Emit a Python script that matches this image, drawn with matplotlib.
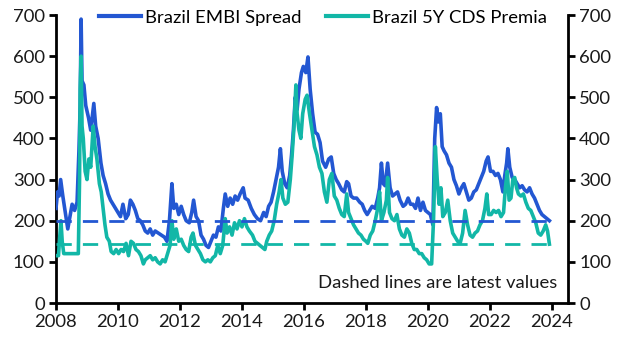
import matplotlib
matplotlib.use("Agg")
import matplotlib.pyplot as plt

# ---- data (fractional years, bp) ----
embi_t = [2008.00, 2008.05, 2008.10, 2008.15, 2008.22, 2008.30, 2008.38, 2008.45, 2008.52, 2008.60,
          2008.68, 2008.74, 2008.78, 2008.81, 2008.84, 2008.90, 2008.96, 2009.05, 2009.12, 2009.22,
          2009.28, 2009.36, 2009.45, 2009.52, 2009.60, 2009.68, 2009.76, 2009.84, 2009.92, 2010.00,
          2010.08, 2010.16, 2010.25, 2010.33, 2010.40, 2010.48, 2010.56, 2010.64, 2010.72, 2010.80,
          2010.88, 2010.96, 2011.04, 2011.12, 2011.20, 2011.30, 2011.40, 2011.50, 2011.58, 2011.66,
          2011.74, 2011.80, 2011.88, 2011.96, 2012.04, 2012.12, 2012.20, 2012.30, 2012.38, 2012.44,
          2012.52, 2012.60, 2012.68, 2012.76, 2012.84, 2012.92, 2013.00, 2013.08, 2013.16, 2013.24,
          2013.32, 2013.40, 2013.46, 2013.54, 2013.62, 2013.70, 2013.78, 2013.86, 2013.94, 2014.04,
          2014.10, 2014.20, 2014.30, 2014.40, 2014.50, 2014.60, 2014.70, 2014.78, 2014.86, 2014.94,
          2015.02, 2015.10, 2015.18, 2015.24, 2015.30, 2015.38, 2015.46, 2015.54, 2015.60, 2015.66,
          2015.72, 2015.78, 2015.84, 2015.92, 2015.98, 2016.06, 2016.13, 2016.20, 2016.28, 2016.36,
          2016.44, 2016.52, 2016.60, 2016.70, 2016.80, 2016.88, 2016.96, 2017.04, 2017.12, 2017.22,
          2017.30, 2017.38, 2017.44, 2017.52, 2017.60, 2017.70, 2017.80, 2017.88, 2017.96, 2018.04,
          2018.12, 2018.20, 2018.30, 2018.38, 2018.44, 2018.50, 2018.56, 2018.62, 2018.70, 2018.78,
          2018.86, 2018.94, 2019.02, 2019.10, 2019.20, 2019.28, 2019.36, 2019.44, 2019.52, 2019.60,
          2019.68, 2019.76, 2019.84, 2019.92, 2020.00, 2020.08, 2020.16, 2020.22, 2020.28, 2020.34,
          2020.40, 2020.46, 2020.52, 2020.60, 2020.68, 2020.76, 2020.84, 2020.92, 2021.00, 2021.08,
          2021.16, 2021.24, 2021.32, 2021.40, 2021.48, 2021.56, 2021.64, 2021.72, 2021.80, 2021.88,
          2021.94, 2022.02, 2022.10, 2022.18, 2022.26, 2022.34, 2022.42, 2022.48, 2022.54, 2022.58,
          2022.64, 2022.72, 2022.80, 2022.88, 2022.96, 2023.04, 2023.12, 2023.20, 2023.28, 2023.36,
          2023.44, 2023.52, 2023.60, 2023.68, 2023.76, 2023.84, 2023.92]
embi_v = [230, 270, 260, 300, 260, 220, 180, 210, 240, 225,
          245, 370, 480, 690, 540, 530, 480, 450, 420, 485,
          430, 400, 340, 310, 290, 265, 250, 240, 230, 220,
          210, 240, 205, 215, 250, 240, 225, 205, 200, 190,
          175, 170, 180, 165, 175, 170, 165, 160, 150, 200,
          290, 230, 240, 215, 235, 215, 200, 195, 220, 250,
          210, 200, 165, 155, 140, 135, 150, 165, 160, 185,
          175, 230, 265, 235, 255, 240, 260, 250, 265, 280,
          255, 250, 230, 215, 205, 200, 220, 210, 235, 245,
          270, 300, 330, 375, 320, 290, 280, 310, 360, 420,
          500, 470, 520, 560, 575, 560, 598, 520, 460, 415,
          410, 390, 345, 330, 350, 355, 315, 300, 290, 275,
          270, 295, 290, 260, 255, 255, 245, 240, 225, 215,
          225, 235, 230, 255, 280, 340, 290, 285, 340, 280,
          260, 265, 270, 250, 235, 240, 255, 240, 240, 230,
          255, 225, 245, 225, 220, 215, 190, 400, 475, 440,
          460, 380, 370, 360, 340, 330, 300, 285, 265, 280,
          290, 270, 250, 255, 270, 275, 290, 305, 320, 345,
          355, 320, 320, 310, 315, 300, 270, 310, 340, 375,
          330, 305, 300, 290, 280, 285, 275, 270, 280, 265,
          255, 240, 225, 215, 210, 205, 200]

cds_t = [2008.00, 2008.08, 2008.12, 2008.16, 2008.20, 2008.25, 2008.72, 2008.76, 2008.78, 2008.81,
         2008.84, 2008.88, 2008.94, 2009.00, 2009.06, 2009.12, 2009.20, 2009.26, 2009.32, 2009.40,
         2009.46, 2009.52, 2009.58, 2009.64, 2009.72, 2009.78, 2009.86, 2009.94, 2010.02, 2010.10,
         2010.18, 2010.26, 2010.34, 2010.42, 2010.50, 2010.58, 2010.66, 2010.74, 2010.82, 2010.88,
         2010.96, 2011.04, 2011.12, 2011.20, 2011.28, 2011.36, 2011.44, 2011.52, 2011.60, 2011.68,
         2011.74, 2011.80, 2011.88, 2011.96, 2012.04, 2012.12, 2012.20, 2012.28, 2012.36, 2012.42,
         2012.50, 2012.58, 2012.66, 2012.74, 2012.82, 2012.90, 2012.98, 2013.06, 2013.14, 2013.22,
         2013.30, 2013.38, 2013.46, 2013.52, 2013.60, 2013.68, 2013.76, 2013.84, 2013.92, 2014.00,
         2014.08, 2014.16, 2014.24, 2014.34, 2014.42, 2014.50, 2014.58, 2014.66, 2014.74, 2014.80,
         2014.88, 2014.96, 2015.04, 2015.12, 2015.20, 2015.26, 2015.32, 2015.40, 2015.48, 2015.56,
         2015.62, 2015.68, 2015.74, 2015.78, 2015.84, 2015.90, 2015.96, 2016.04, 2016.10, 2016.18,
         2016.26, 2016.34, 2016.42, 2016.50, 2016.58, 2016.66, 2016.74, 2016.82, 2016.90, 2016.98,
         2017.06, 2017.14, 2017.22, 2017.30, 2017.38, 2017.44, 2017.52, 2017.60, 2017.68, 2017.76,
         2017.84, 2017.92, 2018.00, 2018.06, 2018.14, 2018.22, 2018.30, 2018.38, 2018.44, 2018.50,
         2018.58, 2018.66, 2018.70, 2018.76, 2018.84, 2018.92, 2019.00, 2019.08, 2019.16, 2019.24,
         2019.32, 2019.40, 2019.48, 2019.56, 2019.64, 2019.72, 2019.80, 2019.88, 2019.96, 2020.04,
         2020.12, 2020.18, 2020.24, 2020.30, 2020.36, 2020.42, 2020.48, 2020.56, 2020.64, 2020.72,
         2020.80, 2020.88, 2020.96, 2021.04, 2021.12, 2021.20, 2021.28, 2021.36, 2021.44, 2021.52,
         2021.60, 2021.68, 2021.76, 2021.84, 2021.90, 2021.96, 2022.04, 2022.12, 2022.20, 2022.28,
         2022.36, 2022.44, 2022.50, 2022.56, 2022.62, 2022.68, 2022.74, 2022.80, 2022.86, 2022.92,
         2023.00, 2023.08, 2023.16, 2023.24, 2023.32, 2023.40, 2023.48, 2023.56, 2023.64, 2023.72,
         2023.80, 2023.86, 2023.92]
cds_v = [115, 115, 160, 200, 150, 120, 120, 300, 520, 600,
         430, 400, 320, 300, 350, 330, 430, 380, 350, 290,
         270, 230, 190, 160, 150, 125, 120, 130, 120, 130,
         125, 145, 115, 150, 145, 130, 125, 115, 95, 105,
         110, 115, 105, 110, 100, 95, 105, 100, 120, 140,
         200, 155, 180, 150, 155, 140, 130, 125, 160, 170,
         140, 130, 120, 105, 100, 105, 100, 110, 115, 140,
         120, 140, 205, 170, 185, 165, 195, 180, 200, 185,
         205, 185, 175, 165, 150, 145, 140, 135, 130, 150,
         165, 175, 200, 240, 270, 300, 255, 240, 245, 300,
         360, 430, 530, 460, 420, 400, 460, 495, 505, 460,
         420, 380, 360, 330, 315, 270, 245, 300, 315, 260,
         250, 230, 215, 210, 265, 220, 205, 190, 180, 170,
         165, 155, 150, 145, 165, 175, 200, 230, 270, 200,
         220, 250, 305, 220, 205, 200, 215, 180, 165, 160,
         180, 170, 145, 130, 130, 120, 120, 110, 105, 95,
         95, 200, 380, 300, 240, 280, 210, 220, 250, 200,
         170, 160, 150, 145, 170, 225, 190, 165, 160, 170,
         175, 190, 200, 230, 265, 215, 215, 225, 220, 225,
         210, 220, 280, 320, 250, 255, 300, 305, 280, 265,
         260, 265, 245, 230, 225, 210, 195, 170, 165, 175,
         190, 175, 143]

series_labels = ["Brazil EMBI Spread", "Brazil 5Y CDS Premia"]
x_ticks = [2008, 2010, 2012, 2014, 2016, 2018, 2020, 2022, 2024]
y_ticks = [0, 100, 200, 300, 400, 500, 600, 700]
note = "Dashed lines are latest values"

BLUE = "#2357D2"
TEAL = "#12B7A7"

plt.rcParams['font.family'] = ['Lato', 'DejaVu Sans']
fs = 13.3

fig = plt.figure(figsize=(6.28, 3.50), dpi=100)
ax = fig.add_axes([56/628, 47/350, 512/628, 288/350])

ax.plot(embi_t, embi_v, color=BLUE, lw=2.6, label=series_labels[0], zorder=3)
ax.plot(cds_t, cds_v, color=TEAL, lw=2.6, label=series_labels[1], zorder=4)

ax.plot([embi_t[0], embi_t[-1]], [embi_v[-1], embi_v[-1]], color=BLUE, lw=2,
        dashes=(5.5, 4), zorder=5)
ax.plot([cds_t[0], cds_t[-1]], [cds_v[-1], cds_v[-1]], color=TEAL, lw=2,
        dashes=(5.5, 4), zorder=5)

ax.set_xlim(2008, 2024.52)
ax.set_ylim(0, 700)
ax.set_xticks(x_ticks)
ax.set_xticklabels([str(x) for x in x_ticks], fontsize=fs)
ax.set_yticks(y_ticks)
ax.set_yticklabels([str(y) for y in y_ticks], fontsize=fs)
ax.tick_params(axis='both', direction='out', length=5, width=2, color='black',
               labelcolor='#1a1a1a', pad=3)
ax.tick_params(axis='y', right=True, labelright=True)

for s in ['left', 'right', 'bottom']:
    ax.spines[s].set_linewidth(2)
    ax.spines[s].set_color('black')
ax.spines['top'].set_visible(False)

leg = ax.legend(loc='center', bbox_to_anchor=(0.521, 0.99), ncol=2, frameon=False,
                fontsize=fs, handlelength=2.3, handletextpad=0.2, columnspacing=1.3,
                borderaxespad=0)
for line in leg.get_lines():
    line.set_linewidth(3)

ax.text(0.979, 0.07, note, transform=ax.transAxes, ha='right', va='center',
        fontsize=fs, color='#1a1a1a')

fig.savefig("out.png", dpi=100)
